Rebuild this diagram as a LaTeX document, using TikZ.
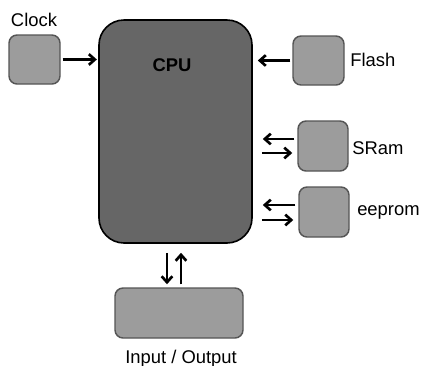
\documentclass[tikz,border=0pt]{standalone}
\usepackage{fontspec}
\setmainfont{Liberation Sans}
\usepackage{tikz}
\usetikzlibrary{arrows.meta,calc}
\definecolor{cpugray}{HTML}{666666}
\definecolor{partgray}{HTML}{9C9C9C}
\definecolor{partedge}{HTML}{555555}

\begin{document}
\begin{tikzpicture}[x=0.75pt, y=-0.75pt,
    part/.style={draw=partedge, line width=1.1pt, fill=partgray, rounded corners=6pt,
        minimum width=37.5pt, minimum height=37.5pt, inner sep=0pt},
    lbl/.style={font=\fontsize{13.8}{16}\selectfont, inner sep=0pt},
    arr/.style={line width=2pt, -{Straight Barb[length=4.5pt,width=8pt]}}]
    \useasboundingbox (0,0) rectangle (422,365);

    % CPU
    \node[draw=black, line width=1.2pt, fill=cpugray, rounded corners=18.75pt,
        minimum width=114.75pt, minimum height=167.25pt, inner sep=0pt] (cpu) at (175.5,131.5) {};
    \node[lbl, font=\fontsize{13.8}{16}\selectfont\bfseries, anchor=base] (cpulbl) at (172,71) {CPU};

    % Parts round the CPU
    \node[part, minimum width=38.25pt, minimum height=36.75pt] (clock) at (34.5,59.5) {};
    \node[lbl, anchor=base] (clocklbl) at (34,26) {Clock};

    \node[part, minimum width=38.25pt, minimum height=36.75pt] (flash) at (318.5,60.5) {};
    \node[lbl, anchor=base west] (flashlbl) at (350,66) {Flash};

    \node[part] (sram) at (323,146) {};
    \node[lbl, anchor=base west] (sramlbl) at (352,154) {SRam};

    \node[part] (eeprom) at (324,212) {};
    \node[lbl, anchor=base west] (eepromlbl) at (357,215) {eeprom};

    \node[part, minimum width=96pt] (io) at (179,313) {};
    \node[lbl, anchor=base] (iolbl) at (181,363) {Input / Output};

    % Single arrows
    \draw[arr, shorten <=1.5pt, shorten >=1pt] (clock.east) -- (clock.east -| cpu.west);
    \draw[arr, shorten <=1.5pt, shorten >=3.75pt] (flash.west) -- (flash.west -| cpu.east);

    % Arrow pairs
    \foreach \mem/\up/\dn in {sram/-7/7, eeprom/-7/8} {
        \coordinate (\mem-in) at ($(\mem.west)+(0,\up)$);
        \coordinate (\mem-out) at ($(\mem.west)+(0,\dn)$);
        \draw[arr, shorten <=2.25pt, shorten >=7.5pt] (\mem-in) -- (\mem-in -| cpu.east);
        \draw[arr, shorten <=6.75pt, shorten >=3.75pt] (\mem-out -| cpu.east) -- (\mem-out);
    }
    \coordinate (io-in) at ($(io.north)+(-12,0)$);
    \coordinate (io-out) at ($(io.north)+(2,0)$);
    \draw[arr, shorten <=6.75pt, shorten >=2.25pt] (io-in |- cpu.south) -- (io-in);
    \draw[arr, shorten <=2.25pt, shorten >=6.75pt] (io-out) -- (io-out |- cpu.south);
\end{tikzpicture}
\end{document}
